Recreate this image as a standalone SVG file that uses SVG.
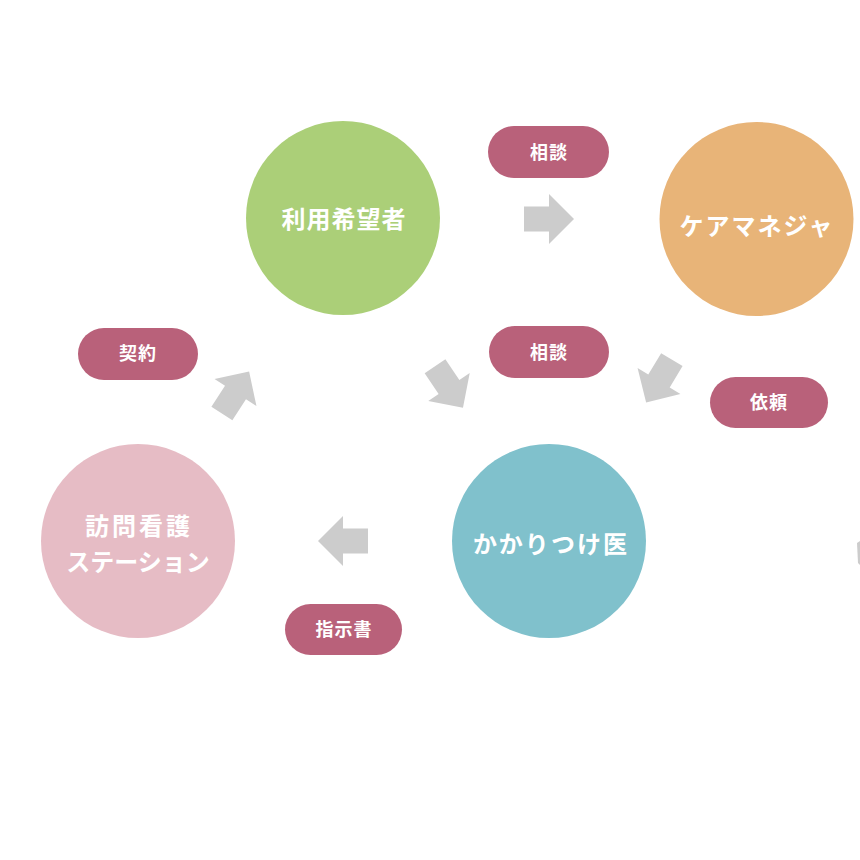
<svg xmlns="http://www.w3.org/2000/svg" width="860" height="860" viewBox="0 0 860 860">
<style>
.lbl{font-family:"Noto Sans CJK JP","Noto Sans",sans-serif;font-weight:bold;fill:#ffffff;text-anchor:middle}
.big{font-size:24px;letter-spacing:1px}
.sm{font-size:18px;letter-spacing:1px}
.pill{fill:#b9617a}
.arr{fill:#cccccc}
</style>
<defs>
<polygon id="arrow" points="-25,-12.5 0,-12.5 0,-25 25,0 0,25 0,12.5 -25,12.5"/>
</defs>
<rect width="860" height="860" fill="#ffffff"/>
<g id="connectors">
<use href="#arrow" class="arr" transform="translate(549,219)"/>
<use href="#arrow" class="arr" transform="translate(449,387) rotate(56)"/>
<use href="#arrow" class="arr" transform="translate(659,381) rotate(121)"/>
<use href="#arrow" class="arr" transform="translate(343,541) rotate(180)"/>
<use href="#arrow" class="arr" transform="translate(235.5,392.5) rotate(-57)"/>
<polygon class="arr" points="857,543 860,541 860,565 858,563"/>
</g>
<g id="node-user">
<circle cx="343" cy="218" r="97" fill="#abcf78"/>
<text class="lbl big" x="344" y="228">利用希望者</text>
</g>
<g id="node-caremanager">
<circle cx="756.5" cy="219" r="97" fill="#e8b478"/>
<text class="lbl big" x="757" y="235" style="letter-spacing:2px">ケアマネジャ</text>
</g>
<g id="node-doctor">
<circle cx="549" cy="541" r="97" fill="#80c1cc"/>
<text class="lbl big" x="551" y="553" style="letter-spacing:2px">かかりつけ医</text>
</g>
<g id="node-nursing">
<circle cx="138" cy="541" r="97" fill="#e6bcc5"/>
<text class="lbl big" x="139" y="535" style="letter-spacing:3px">訪問看護</text>
<text class="lbl big" x="138" y="571" style="letter-spacing:0px">ステーション</text>
</g>
<g id="label-soudan1">
<rect class="pill" x="488" y="126" width="121" height="52" rx="26"/>
<text class="lbl sm" x="549" y="159">相談</text>
</g>
<g id="label-soudan2">
<rect class="pill" x="489" y="326" width="120" height="52" rx="26"/>
<text class="lbl sm" x="549" y="359">相談</text>
</g>
<g id="label-keiyaku">
<rect class="pill" x="78" y="328" width="120" height="52" rx="26"/>
<text class="lbl sm" x="138" y="360">契約</text>
</g>
<g id="label-irai">
<rect class="pill" x="710" y="377" width="118" height="51" rx="25.5"/>
<text class="lbl sm" x="769" y="409">依頼</text>
</g>
<g id="label-shijisho">
<rect class="pill" x="285" y="604" width="117" height="51" rx="25.5"/>
<text class="lbl sm" x="344" y="636">指示書</text>
</g>
</svg>
